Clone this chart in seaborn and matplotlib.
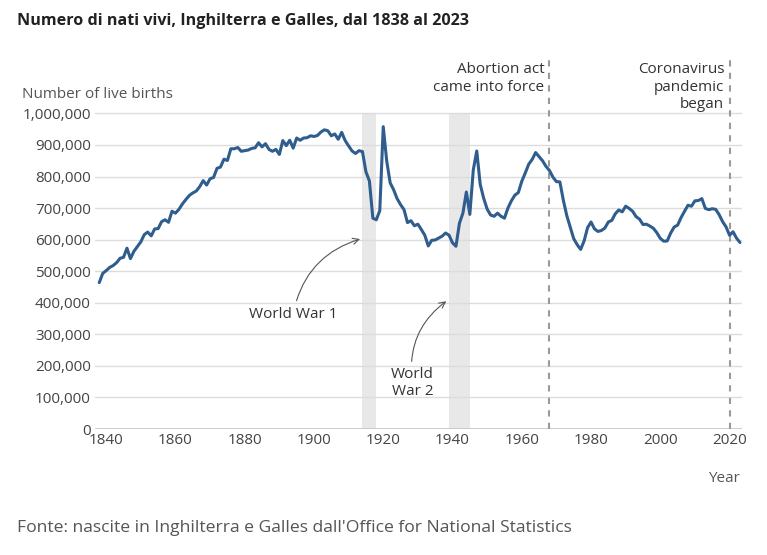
import matplotlib
matplotlib.use("Agg")
import matplotlib.pyplot as plt
import seaborn as sns
import pandas as pd
from matplotlib.ticker import FuncFormatter

# live births, England and Wales, one value per year from 1838
years = list(range(1838, 2024))
births = [
    464, 493, 502, 512, 518, 527, 541, 544, 573, 540,
    563, 578, 593, 616, 624, 612, 634, 635, 657, 663,
    655, 690, 684, 696, 713, 727, 740, 748, 754, 768,
    787, 773, 793, 797, 826, 830, 855, 851, 888, 888,
    892, 880, 882, 884, 889, 891, 907, 894, 904, 886,
    880, 886, 870, 914, 898, 915, 890, 922, 915, 922,
    923, 929, 927, 930, 941, 948, 945, 929, 935, 918,
    940, 914, 897, 881, 873, 882, 879, 815, 786, 668,
    663, 692, 958, 849, 780, 758, 730, 711, 695, 654,
    660, 644, 649, 632, 614, 580, 598, 599, 605, 611,
    621, 614, 590, 579, 652, 684, 751, 680, 821, 881,
    775, 731, 697, 678, 674, 684, 674, 668, 700, 723,
    741, 749, 785, 811, 839, 854, 876, 863, 850, 832,
    819, 798, 784, 783, 725, 676, 640, 603, 584, 569,
    596, 638, 656, 634, 626, 629, 637, 656, 661, 682,
    694, 688, 706, 699, 690, 673, 665, 648, 649, 643,
    636, 622, 604, 595, 596, 621, 640, 646, 670, 690,
    709, 706, 723, 724, 730, 699, 695, 698, 696, 679,
    657, 640, 614, 625, 605, 591,
]
births = [b * 1000 for b in births]

wars = [(1914, 1918), (1939, 1945)]
events = [(1968, "Abortion act\ncame into force"), (2020, "Coronavirus\npandemic\nbegan")]

df = pd.DataFrame({"Year": years, "Births": births})

sns.set_theme(style="white")
plt.rcParams["font.family"] = ["Open Sans", "DejaVu Sans"]

fig = plt.figure(figsize=(7.67, 5.55), dpi=100)
ax = fig.add_axes([0.124, 0.227, 0.843, 0.671])

for a, b in wars:
    ax.fill_between([a, b], 0, 1000000, color="#e8e8e8", lw=0, zorder=0)

for y in range(100000, 1000001, 100000):
    ax.axhline(y, color="#dcdcdc", lw=1, zorder=1)
ax.axhline(0, color="#c8c8c8", lw=2, zorder=1)

for yr, lab in events:
    ax.axvline(yr, color="#9a9a9a", lw=1.5, ls=(0, (3, 3)), zorder=2)
    ax.text(yr - 1.5, 1162000, lab, ha="right", va="top", fontsize=11,
            color="#333333", linespacing=1.22)

sns.lineplot(data=df, x="Year", y="Births", ax=ax, color="#2e5d8e", lw=2.2, zorder=3)

ax.set_xlim(1836.8, 2023.5)
ax.set_ylim(0, 1180000)
ax.set_yticks(range(0, 1000001, 100000))
ax.set_xticks(range(1840, 2021, 20))
ax.yaxis.set_major_formatter(FuncFormatter(lambda v, p: f"{int(v):,}"))
ax.tick_params(axis="both", labelsize=11, colors="#444444", length=0, pad=3)
for s in ax.spines.values():
    s.set_visible(False)
ax.set_xlabel("")
ax.set_ylabel("")

ax.annotate("World War 1", xy=(1913.3, 602000), xytext=(1894, 364000),
            ha="center", va="center", fontsize=11, color="#333333",
            arrowprops=dict(arrowstyle="->", color="#555555", lw=0.8,
                            shrinkA=2, shrinkB=0,
                            connectionstyle="arc3,rad=-0.3"))
ax.annotate("World\nWar 2", xy=(1938.2, 405000), xytext=(1928.5, 145000),
            ha="center", va="center", fontsize=11, color="#333333",
            linespacing=1.15,
            arrowprops=dict(arrowstyle="->", color="#555555", lw=0.8,
                            shrinkA=2, shrinkB=0,
                            connectionstyle="arc3,rad=-0.3"))

fig.text(0.022, 0.962, "Numero di nati vivi, Inghilterra e Galles, dal 1838 al 2023",
         fontsize=11.6, fontweight="bold", color="#222222", va="center")
fig.text(0.029, 0.830, "Number of live births", fontsize=11, color="#555555", va="center")
fig.text(0.965, 0.137, "Year", fontsize=11, color="#555555", ha="right", va="center")
fig.text(0.022, 0.049, "Fonte: nascite in Inghilterra e Galles dall'Office for National Statistics",
         fontsize=12.6, color="#555555", va="center")

fig.savefig("out.png", dpi=100)
